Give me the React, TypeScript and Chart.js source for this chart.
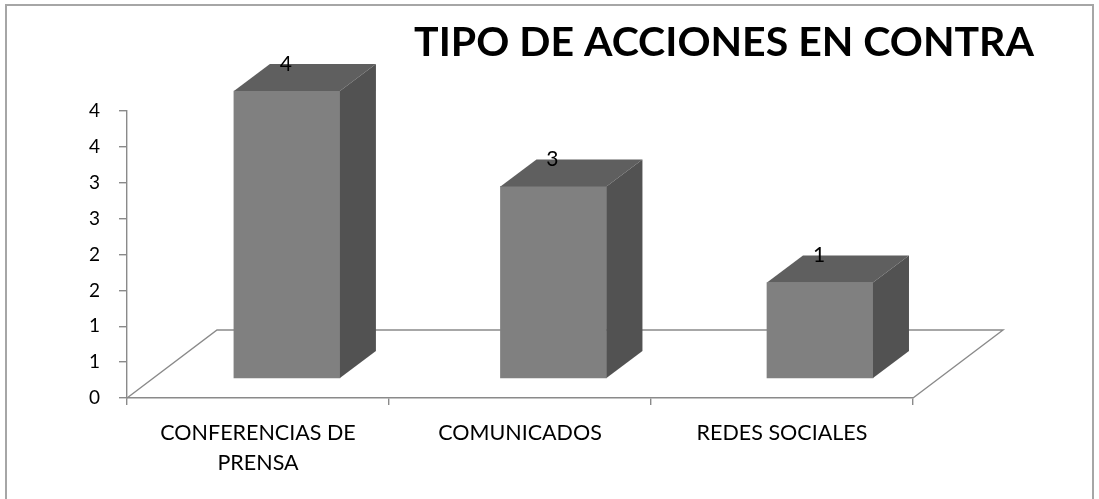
import { useEffect, useRef } from 'react';
import { Chart, registerables } from 'chart.js';

Chart.register(...registerables);

const chartTitle = 'TIPO DE ACCIONES EN CONTRA';
const categories: (string | string[])[] = [['CONFERENCIAS DE', 'PRENSA'], 'COMUNICADOS', 'REDES SOCIALES'];
const values = [4, 2.67, 1.33];
const yMin = 0;
const yMax = 4;
const yStep = 0.5;

const DEPTH_X = 36;
const DEPTH_Y = 27;
const FLOOR_X = 90;
const FLOOR_Y = 68;

const threeD = {
  id: 'threeD',
  beforeDraw(chart: any) {
    const { ctx } = chart;
    ctx.save();
    ctx.fillStyle = '#ffffff';
    ctx.fillRect(0, 0, chart.width, chart.height);
    ctx.strokeStyle = '#a6a6a6';
    ctx.lineWidth = 2;
    ctx.strokeRect(6, 5, 1087, 520);
    ctx.restore();
  },
  beforeDatasetsDraw(chart: any) {
    const { ctx, chartArea } = chart;
    const { left, right, bottom } = chartArea;
    ctx.save();
    ctx.strokeStyle = '#8a8a8a';
    ctx.lineWidth = 1.4;
    ctx.beginPath();
    ctx.moveTo(left, bottom);
    ctx.lineTo(left + FLOOR_X, bottom - FLOOR_Y);
    ctx.lineTo(right + FLOOR_X, bottom - FLOOR_Y);
    ctx.lineTo(right, bottom);
    ctx.stroke();
    ctx.restore();
  },
  afterDatasetsDraw(chart: any) {
    const { ctx } = chart;
    const meta = chart.getDatasetMeta(0);
    ctx.save();
    meta.data.forEach((bar: any, i: number) => {
      const { x, y, base, width } = bar.getProps(['x', 'y', 'base', 'width'], true);
      const l = x - width / 2;
      const r = x + width / 2;
      // top face
      ctx.fillStyle = '#5f5f5f';
      ctx.beginPath();
      ctx.moveTo(l, y);
      ctx.lineTo(r, y);
      ctx.lineTo(r + DEPTH_X, y - DEPTH_Y);
      ctx.lineTo(l + DEPTH_X, y - DEPTH_Y);
      ctx.closePath();
      ctx.fill();
      // side face
      ctx.fillStyle = '#525252';
      ctx.beginPath();
      ctx.moveTo(r, y);
      ctx.lineTo(r + DEPTH_X, y - DEPTH_Y);
      ctx.lineTo(r + DEPTH_X, base - DEPTH_Y);
      ctx.lineTo(r, base);
      ctx.closePath();
      ctx.fill();
      // data label
      ctx.fillStyle = '#000000';
      ctx.font = '21px Lato';
      ctx.textAlign = 'center';
      ctx.textBaseline = 'middle';
      ctx.fillText(String(Math.round(values[i])), x - 1, y - DEPTH_Y);
    });
    // title
    ctx.fillStyle = '#000000';
    ctx.font = 'bold 41px Lato';
    ctx.textAlign = 'center';
    ctx.textBaseline = 'middle';
    ctx.fillText(chartTitle, 724, 43);
    ctx.restore();
  },
};

export default function App() {
  const ref = useRef<HTMLCanvasElement | null>(null);
  useEffect(() => {
    if (!ref.current) return;
    const chart = new Chart(ref.current, {
      type: 'bar',
      data: {
        labels: categories as any,
        datasets: [
          {
            data: values.map((v, i) => ({ x: i, y: v })) as any,
            xAxisID: 'xb',
            yAxisID: 'yb',
            backgroundColor: '#808080',
            borderWidth: 0,
            barThickness: 106,
            clip: false as any,
          },
        ],
      },
      options: {
        responsive: false,
        animation: false,
        layout: { padding: { top: 111, left: 0, right: 186, bottom: 0 } },
        plugins: {
          legend: { display: false },
          title: { display: false },
          tooltip: { enabled: false },
        },
        scales: {
          x: {
            type: 'category',
            position: 'bottom',
            offset: true,
            grid: { offset: true, drawOnChartArea: false, drawTicks: true, tickLength: 7, color: '#8a8a8a', lineWidth: 1.4 },
            border: { color: '#8a8a8a', width: 1.4 },
            ticks: { color: '#000000', font: { family: 'Lato', size: 21.5, lineHeight: 1.4 }, padding: 13, maxRotation: 0, autoSkip: false },
            afterFit: (s: any) => { s.height = 101; },
          },
          y: {
            type: 'linear',
            position: 'left',
            min: yMin,
            max: yMax,
            grid: { drawOnChartArea: false, drawTicks: true, tickLength: 8, color: '#8a8a8a', lineWidth: 1.4 },
            border: { color: '#8a8a8a', width: 1.4 },
            ticks: {
              stepSize: yStep,
              color: '#000000',
              font: { family: 'Lato', size: 19 },
              padding: 19,
              callback: (v: any) => String(Math.round(Number(v))),
            },
            afterFit: (s: any) => { s.width = 127; },
          },
          xb: {
            type: 'linear',
            display: false,
            offset: false,
            min: -0.6,
            max: 2.349,
          },
          yb: {
            type: 'linear',
            display: false,
            min: -0.2787,
            max: 3.7213,
          },
        },
      },
      plugins: [threeD],
    });
    return () => chart.destroy();
  }, []);
  return (
    <div style={{ position: 'absolute', left: 0, top: 0, width: 1099, height: 499, background: '#fff' }}>
      <canvas ref={ref} width={1099} height={499} style={{ width: 1099, height: 499, display: 'block' }} />
    </div>
  );
}
